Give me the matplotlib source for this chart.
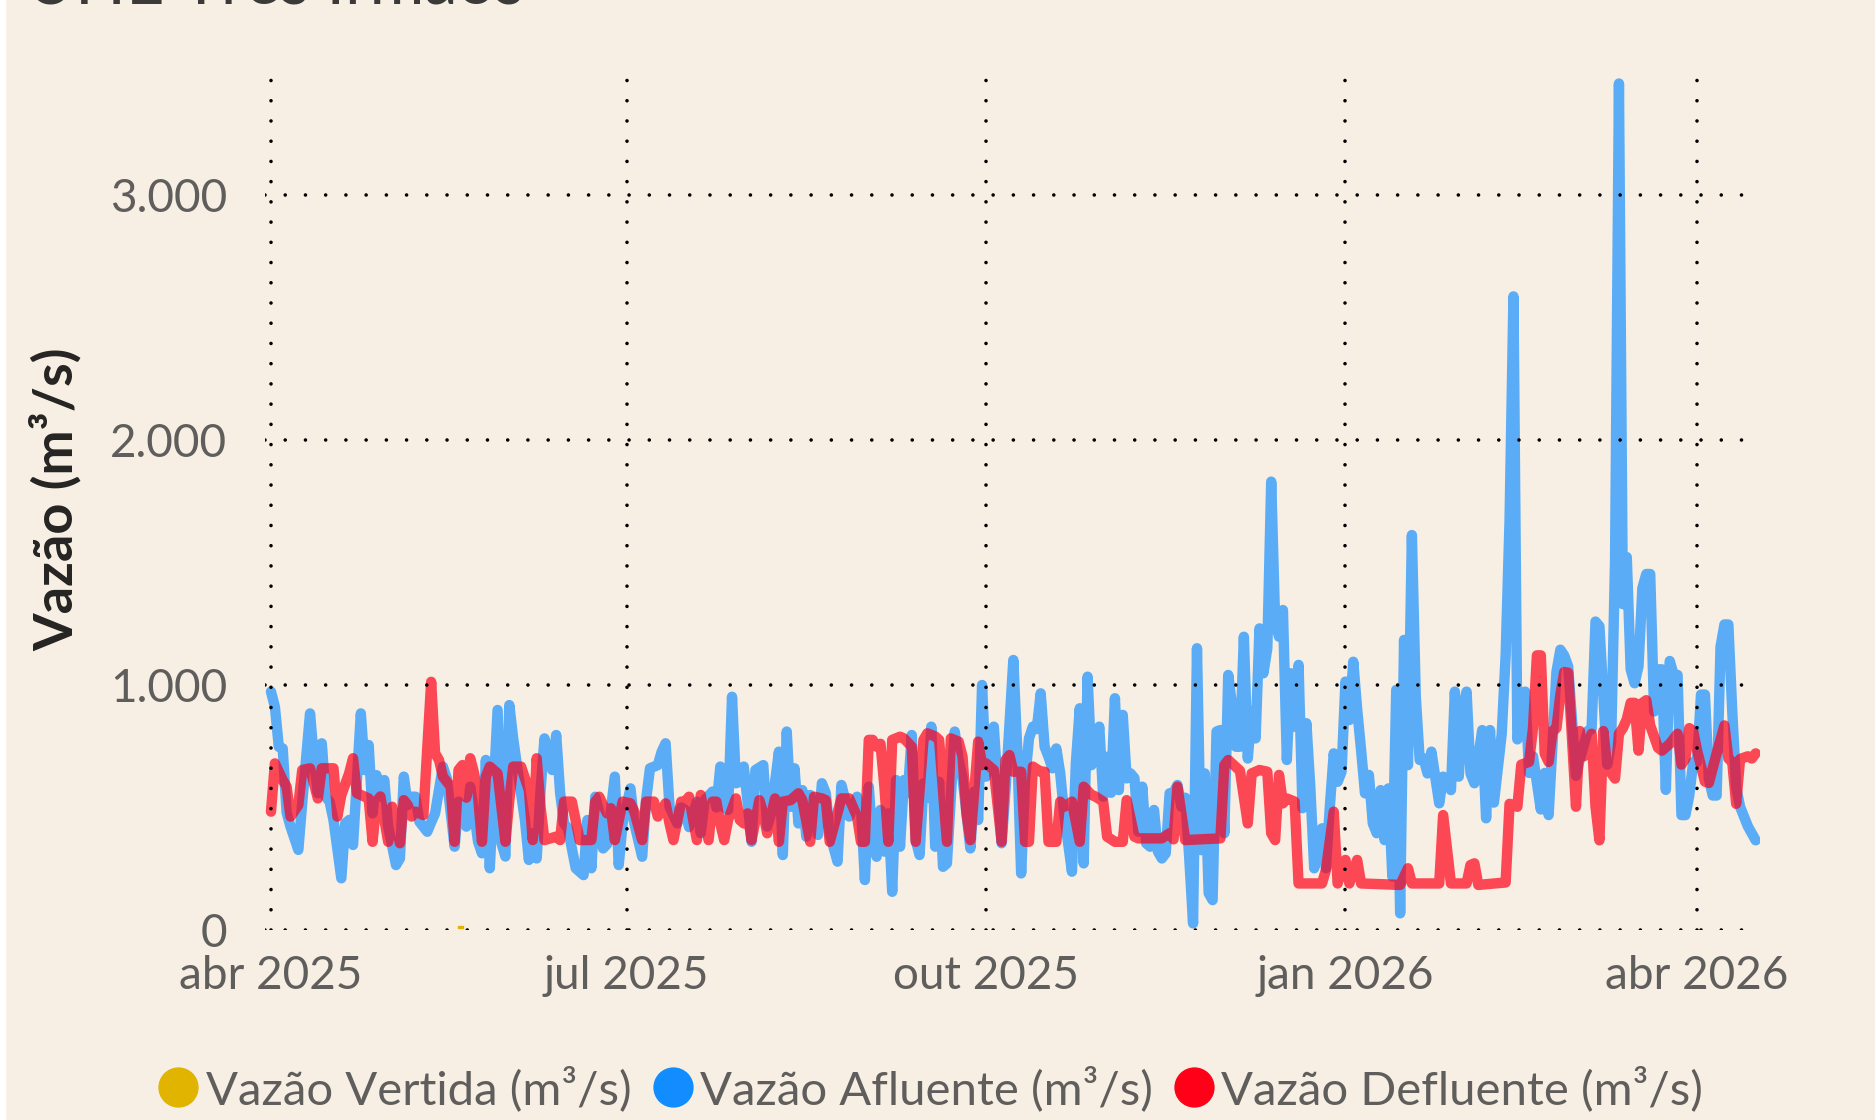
import numpy as np
import matplotlib
matplotlib.use("Agg")
import matplotlib.pyplot as plt
import matplotlib.dates as mdates
from matplotlib.lines import Line2D
from matplotlib.ticker import FixedLocator, FuncFormatter

# ---------------- data ----------------
START = "2025-04-01"

blue_days = [0,1,2,3,4,5,7,8,10,11,
             12,13,14,15,16,18,19,20,21,23,
             24,25,26,27,28,29,30,32,33,34,
             35,36,37,38,40,41,42,44,45,46,
             47,48,50,51,52,53,54,55,56,58,
             59,60,61,62,63,64,65,66,67,68,
             69,70,72,73,74,75,76,78,80,81,
             82,83,84,85,86,88,89,90,92,93,
             95,96,97,99,100,101,102,104,105,106,
             107,109,110,111,113,114,115,116,117,118,
             119,120,121,122,123,124,126,127,128,130,
             131,132,133,134,135,136,137,138,140,141,
             142,143,145,146,147,148,150,151,152,153,
             154,155,156,157,158,159,160,161,162,163,
             164,165,166,167,168,169,170,171,172,173,
             175,176,177,179,180,181,182,183,185,186,
             187,188,190,191,192,193,194,195,196,197,
             198,199,200,201,202,203,205,206,207,208,
             209,210,211,212,213,214,215,216,217,218,
             219,220,221,222,223,224,225,226,227,228,
             229,230,231,232,233,234,235,236,237,238,
             239,240,241,242,243,244,245,246,247,248,
             249,250,251,252,253,254,255,256,257,258,
             259,260,261,262,263,264,265,266,267,268,
             269,270,271,272,273,274,275,276,277,278,
             279,280,281,282,283,284,285,286,287,288,
             289,290,291,292,293,294,295,296,297,
             299,300,302,303,304,305,306,307,308,310,
             311,312,313,315,316,317,318,319,321,322,
             323,324,325,326,327,329,330,331,332,334,
             335,337,338,339,340,342,343,344,345,346,
             347,348,349,350,351,352,353,354,355,356,
             357,358,359,360,361,362,363,364,365,366,
             367,368,369,370,371,372,373,374,375,376,
             378,380]
blue_vals = [973,911,748,741,480,422,327,520,884,694,
             558,762,544,524,449,211,435,449,347,884,
             653,755,476,632,544,612,422,265,292,626,
             510,544,544,442,401,440,476,667,619,480,
             340,524,422,585,480,360,313,694,252,898,
             354,300,918,780,667,558,449,286,395,292,
             571,782,653,796,560,435,415,252,224,449,
             252,544,483,333,350,626,265,435,578,435,
             299,530,660,673,728,762,503,435,500,490,
             420,524,395,530,565,500,667,500,490,952,
             599,605,667,520,360,653,673,422,476,728,
             306,810,503,660,435,571,381,551,388,599,
             558,395,279,592,530,463,544,503,204,585,
             354,299,490,320,476,156,612,340,612,560,
             796,367,306,599,540,830,340,605,258,272,
             810,694,620,333,565,449,1000,626,830,585,
             354,571,1102,735,231,612,782,830,820,966,
             748,707,660,741,639,476,238,680,905,272,
             1034,673,720,830,544,707,560,946,571,878,
             619,639,620,401,585,354,340,490,320,292,
             313,558,560,592,503,540,300,27,1150,326,
             639,150,122,810,816,395,1041,912,748,748,
             1197,700,891,782,1231,1048,1150,1830,1258,1197,
             1306,694,1048,830,1082,497,844,585,252,330,
             415,252,503,721,605,646,1014,857,1095,900,
             735,558,633,435,395,571,367,578,218,980,
             68,1184,673,1612,952,694,700,639,728,
             517,626,571,973,626,898,973,639,599,816,
             456,816,520,801,1121,1670,2586,778,973,641,
             709,600,492,641,469,1053,1144,1120,1076,629,
             698,812,820,1259,1240,675,767,1500,3455,1330,
             1522,1064,1007,1076,1396,1453,1453,892,1064,1064,
             572,1098,1041,1041,469,469,549,686,686,961,
             961,618,549,549,1156,1247,1247,892,583,503,
             423,366]

red_days = [0,1,3,4,5,7,8,10,12,13,
            16,17,18,20,21,22,25,26,27,28,
            30,31,33,34,35,36,37,39,41,42,
            43,44,46,47,48,49,50,51,52,53,
            54,55,56,58,60,61,62,64,66,67,
            68,69,70,73,74,75,77,79,82,83,
            84,86,87,88,90,92,93,95,96,98,
            99,101,102,103,105,106,107,109,110,112,
            113,114,115,116,117,119,120,121,122,123,
            125,126,127,129,130,131,133,135,136,138,
            139,141,142,143,146,148,150,151,152,153,
            154,155,156,157,158,159,161,162,164,165,
            167,168,170,171,173,174,176,177,178,179,
            181,182,183,185,187,188,189,190,192,193,
            194,195,197,198,199,201,202,203,205,207,
            208,210,211,213,214,216,218,219,221,222,
            228,230,231,232,233,234,243,244,245,248,
            250,251,253,255,256,257,258,259,260,262,
            263,269,270,272,273,275,276,278,279,289,
            291,292,299,300,302,306,307,308,309,316,
            317,319,320,322,323,324,325,326,327,328,
            329,330,331,332,334,335,336,338,339,340,
            341,342,344,345,346,347,348,349,350,351,
            352,353,355,356,358,360,361,362,363,364,
            365,367,368,370,372,373,374,375,376,378,
            379,380]
red_vals = [483,680,612,585,463,510,653,660,537,660,
            660,463,551,639,701,558,537,360,524,545,
            360,503,354,530,510,463,483,469,1013,721,
            694,626,585,360,653,673,540,701,639,545,
            360,626,667,639,360,530,667,667,571,367,
            701,500,367,381,367,524,524,367,367,524,
            544,476,497,367,524,517,483,367,524,524,
            463,517,435,367,524,524,544,367,551,367,
            524,524,435,367,450,537,449,435,476,367,
            530,476,395,537,360,524,530,558,530,360,
            544,537,530,360,537,537,463,360,360,776,
            776,748,760,585,360,776,789,782,748,360,
            776,803,790,776,360,782,769,707,476,367,
            769,673,680,653,360,694,714,646,646,360,
            360,667,646,646,360,360,524,503,524,360,
            585,551,545,524,381,360,360,530,381,374,
            374,395,370,585,476,367,374,673,694,650,
            435,639,653,646,395,367,633,517,537,524,
            190,190,245,483,190,286,190,286,190,184,
            252,190,190,469,190,190,265,272,184,194,
            515,503,675,686,824,1121,1121,720,686,812,
            824,961,1053,1050,503,812,709,801,503,366,
            812,664,618,801,824,860,927,927,732,927,
            938,835,744,732,760,801,675,700,824,812,
            732,606,600,721,835,700,686,515,698,709,
            700,721]

yellow_days = [48, 49]
yellow_vals = [12, 12]

tick_dates = ["2025-04-01", "2025-07-01", "2025-10-01", "2026-01-01", "2026-04-01"]
tick_labels = ["abr 2025", "jul 2025", "out 2025", "jan 2026", "abr 2026"]
y_ticks = [0, 1000, 2000, 3000]

series_names = ["Vazão Vertida (m³/s)", "Vazão Afluente (m³/s)", "Vazão Defluente (m³/s)"]
series_colors = ["#E0B400", "#118DFF", "#FF0018"]

# ---------------- style ----------------
BG = "#F7EFE4"
plt.rcParams["font.family"] = ["Lato", "DejaVu Sans"]
plt.rcParams["lines.dash_capstyle"] = "round"

W, H = 1875, 1120
fig = plt.figure(figsize=(W / 100, H / 100), dpi=100)
fig.patch.set_facecolor(BG)

ax_l, ax_r, ax_b, ax_t = 265, 1760, 930, 72.5
ax = fig.add_axes([ax_l / W, 1 - ax_b / H, (ax_r - ax_l) / W, (ax_b - ax_t) / H])
ax.set_facecolor(BG)

base = mdates.date2num(np.datetime64(START))
bx = base + np.array(blue_days, dtype=float)
rx = base + np.array(red_days, dtype=float)
yx = base + np.array(yellow_days, dtype=float)

ax.plot(bx, blue_vals, color=series_colors[1], alpha=0.68, lw=7.5,
        solid_joinstyle="round", solid_capstyle="round", zorder=2)
ax.plot(rx, red_vals, color=series_colors[2], alpha=0.70, lw=7.5,
        solid_joinstyle="round", solid_capstyle="round", zorder=2.1)
ax.plot(yx, yellow_vals, color=series_colors[0], lw=2.4,
        solid_capstyle="projecting", zorder=2.2)

ax.set_xlim(base - 1.53, base + 381.1)
ax.set_ylim(0, 3500)

ticks_x = [mdates.date2num(np.datetime64(d)) for d in tick_dates]
ax.xaxis.set_major_locator(FixedLocator(ticks_x))
ax.set_xticklabels(tick_labels)
ax.yaxis.set_major_locator(FixedLocator(y_ticks))
ax.yaxis.set_major_formatter(FuncFormatter(lambda v, p: f"{int(v):,}".replace(",", ".")))

for s in ax.spines.values():
    s.set_visible(False)
ax.tick_params(axis="both", length=0, labelsize=33, labelcolor="#605E5C")
ax.tick_params(axis="x", pad=18)
ax.tick_params(axis="y", pad=27)

ax.grid(True, color="black", linestyle=(0, (0.001, 5.6)), linewidth=2.6)
ax.set_axisbelow(False)

# y-axis title
fig.text(56 / W, 1 - 499 / H, "Vazão (m³/s)", rotation=90, ha="center", va="center",
         fontsize=39, fontweight="bold", color="#252423")

# cut-off chart title at the very top (as in the reference)
fig.text(26 / W, 1 - 4 / H, "UHE Três Irmãos", ha="left", va="baseline",
         fontsize=48, color="#3B3A39")

# legend
handles = [Line2D([], [], marker="o", linestyle="none", markersize=28,
                  markerfacecolor=c, markeredgecolor=c) for c in series_colors]
leg = fig.legend(handles, series_names, loc="center", bbox_to_anchor=(0.497, 1 - 1089 / H),
                 ncol=3, frameon=False, fontsize=34, handlelength=0.75, handletextpad=0.2,
                 columnspacing=0.5, borderpad=0)
for t in leg.get_texts():
    t.set_color("#605E5C")

# thin white strip at the left edge
fig.patches.append(plt.Rectangle((0, 0), 5 / W, 1, transform=fig.transFigure,
                                 color="white", zorder=0))

fig.savefig("out.png", dpi=100, facecolor=BG)
